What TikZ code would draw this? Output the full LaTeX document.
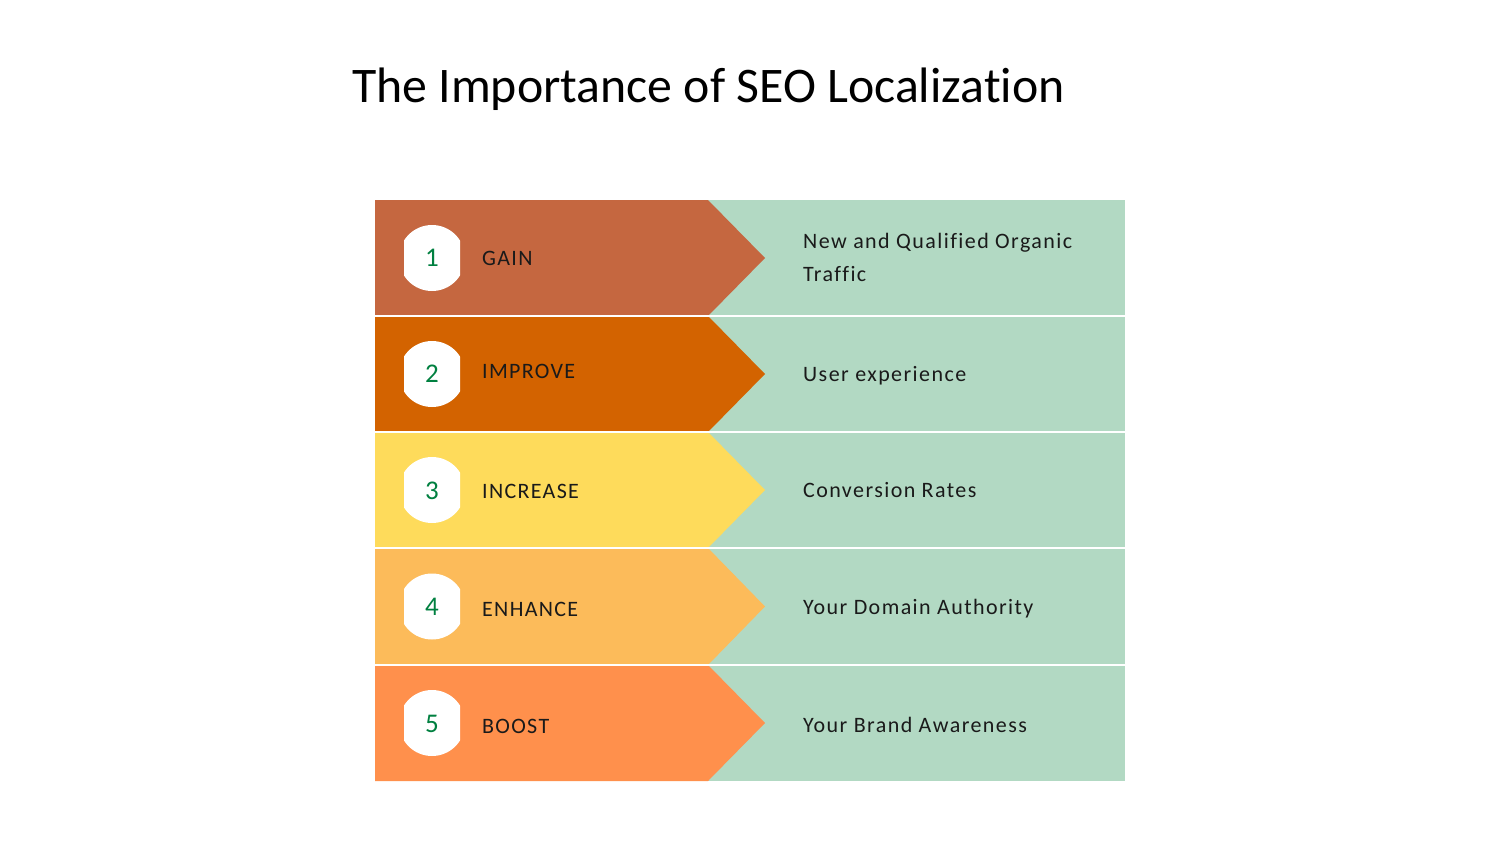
\documentclass[tikz,border=0pt]{standalone}
\usepackage{fontspec}
\setmainfont[Ligatures={NoCommon}]{Carlito}
\definecolor{c1}{RGB}{197,103,64}
\definecolor{c2}{RGB}{211,99,0}
\definecolor{c3}{RGB}{254,219,91}
\definecolor{c4}{RGB}{252,187,90}
\definecolor{c5}{RGB}{255,144,76}
\definecolor{gr}{RGB}{178,217,195}
\definecolor{numgreen}{RGB}{0,128,64}
\definecolor{txt}{RGB}{26,26,26}
\tikzset{
  lbl/.style={anchor=west,inner sep=0pt,text=txt,font=\fontsize{22}{26}\selectfont\addfontfeatures{LetterSpace=6}},
  desc/.style={anchor=west,inner sep=0pt,text=txt,align=left,font=\fontsize{22}{33}\selectfont\addfontfeatures{LetterSpace=6.5}},
  num/.style={inner sep=0pt,text=numgreen,font=\fontsize{27}{30}\selectfont},
  sep/.style={draw=white,line width=2pt}
}
\begin{document}
\begin{tikzpicture}[x=1pt,y=-1pt]
\useasboundingbox[fill=white] (0,0) rectangle (1500,844);
\node[anchor=base west,inner sep=0pt,font=\fontsize{49.8}{60}\selectfont] (title) at (352,102) {The Importance of SEO Localization};
% rows
\foreach \i/\t/\b/\c in {1/200/316/c1,2/316/432/c2,3/432/548/c3,4/548/665/c4,5/665/781/c5}{
  \fill[gr] (708,\t) rectangle (1125,\b);
  \fill[\c] (375,\t) -- (708,\t) -- (765,{(\t+\b)/2}) -- (708,\b) -- (375,\b) -- cycle;
  \begin{scope}
    \clip (404,\t) rectangle (460,\b);
    \fill[white] (432,{(\t+\b)/2}) circle (33);
  \end{scope}
}
\foreach \y in {316,432,548,665}{
  \draw[sep] (375,\y) -- (1125,\y);
}
\node[num] (n1) at (432,258) {1};
\node[num] (n2) at (432,374) {2};
\node[num] (n3) at (432,491) {3};
\node[num] (n4) at (432,607) {4};
\node[num] (n5) at (432,724) {5};
\node[lbl] (l1) at (482,258) {GAIN};
\node[lbl] (l2) at (482,371) {IMPROVE};
\node[lbl] (l3) at (482,491) {INCREASE};
\node[lbl] (l4) at (482,609) {ENHANCE};
\node[lbl] (l5) at (482,726) {BOOST};
\node[desc] (d1) at (803,257) {New and Qualified Organic\\Traffic};
\node[desc] (d2) at (803,376) {User experience};
\node[desc] (d3) at (803,490) {Conversion Rates};
\node[desc] (d4) at (803,609) {Your Domain Authority};
\node[desc] (d5) at (803,725) {Your Brand Awareness};
\end{tikzpicture}
\end{document}
